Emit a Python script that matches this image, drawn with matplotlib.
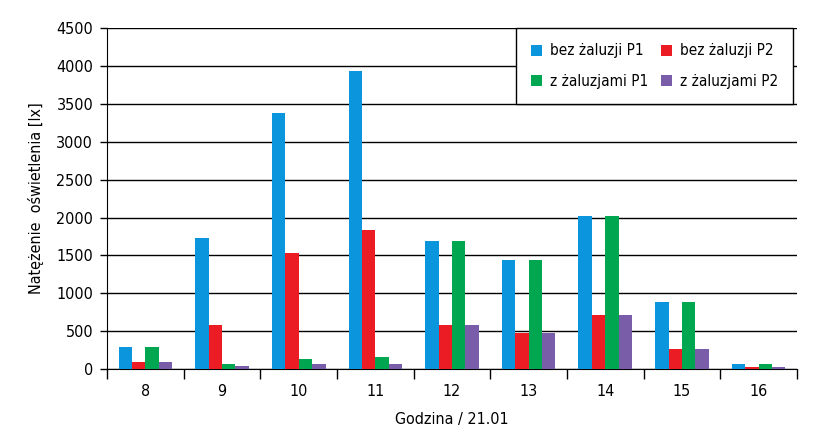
import matplotlib.pyplot as plt
import numpy as np

plt.rcParams['font.family'] = ['DejaVu Sans']
plt.rcParams['font.stretch'] = 'condensed'

hours = ['8', '9', '10', '11', '12', '13', '14', '15', '16']
bez_p1 = [290, 1730, 3380, 3930, 1690, 1440, 2020, 885, 70]
bez_p2 = [90, 580, 1530, 1840, 580, 475, 710, 270, 30]
z_p1 = [290, 65, 130, 160, 1690, 1440, 2020, 885, 70]
z_p2 = [90, 45, 65, 65, 580, 475, 710, 270, 30]
labels = ['bez żaluzji P1', 'bez żaluzji P2', 'z żaluzjami P1', 'z żaluzjami P2']
colors = ['#0b95dc', '#ec1c24', '#00a650', '#7a5da8']

fig = plt.figure(figsize=(8.17, 4.47), dpi=100)
ax = fig.add_axes([0.131, 0.1745, 0.8445, 0.7625])

x = np.arange(len(hours))
w = 0.175
series = [bez_p1, bez_p2, z_p1, z_p2]
bars = []
for i, (vals, lab, c) in enumerate(zip(series, labels, colors)):
    bars.append(ax.bar(x + (i - 1.5) * w, vals, w, color=c, label=lab, zorder=3))

ax.set_xlim(-0.5, len(hours) - 0.5)
ax.set_ylim(0, 4500)
ax.set_yticks(range(0, 4501, 500))
ax.yaxis.grid(True, color='black', linewidth=1)
ax.set_axisbelow(True)

ax.set_xticks(x)
ax.set_xticklabels(hours)
ax.set_xticks(np.arange(-0.5, len(hours)), minor=True)
ax.tick_params(axis='x', which='major', length=0, pad=11, labelsize=11.5)
ax.tick_params(axis='x', which='minor', length=7, width=1, color='black')
ax.tick_params(axis='y', length=5, width=1, labelsize=11.5, pad=5)

for s in ['top', 'right']:
    ax.spines[s].set_visible(False)

ax.set_xlabel('Godzina / 21.01', fontsize=11.5, labelpad=9)
ax.set_ylabel('Natężenie  oświetlenia [lx]', fontsize=11.5, labelpad=9)

# row-wise order: bez P1, bez P2 / z P1, z P2
order = [0, 2, 1, 3]
leg = ax.legend([bars[k] for k in order], [labels[k] for k in order],
                ncol=2, loc='upper right', bbox_to_anchor=(0.9945, 1.0),
                borderaxespad=0, fontsize=11, frameon=True, fancybox=False,
                edgecolor='black', handlelength=0.75, handleheight=0.75,
                columnspacing=0.8, borderpad=1.0, labelspacing=1.0,
                handletextpad=0.5)
leg.get_frame().set_linewidth(1)
leg.get_frame().set_alpha(1)
leg.set_zorder(5)

fig.savefig('out.png', dpi=100)
